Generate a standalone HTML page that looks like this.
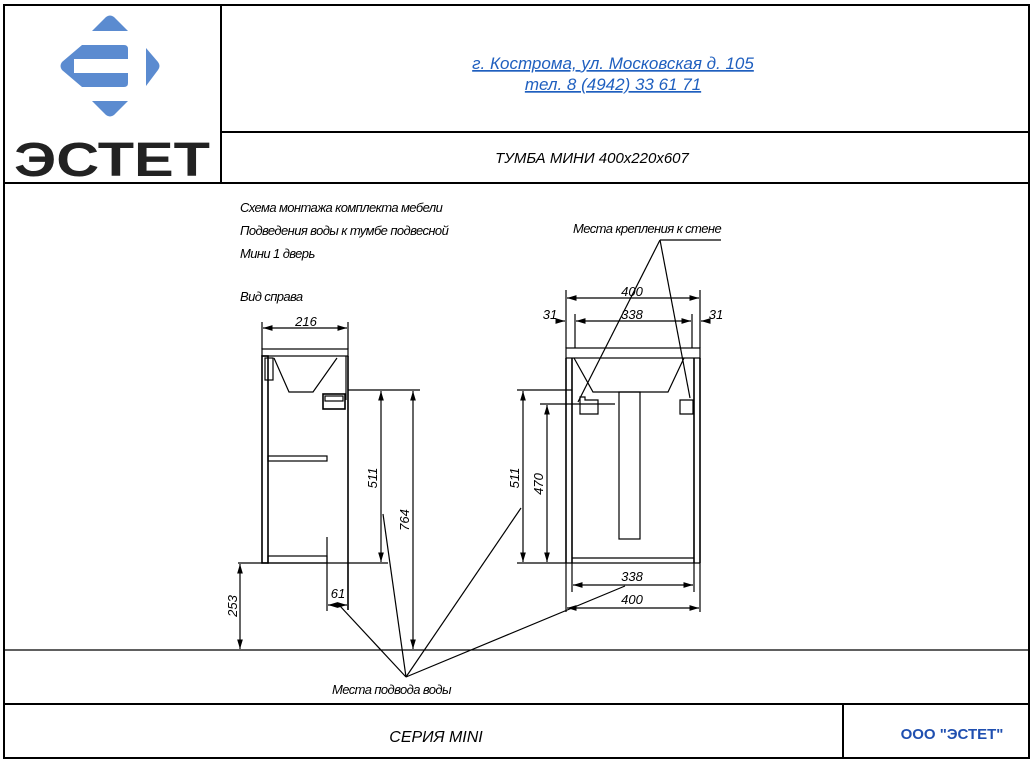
<!DOCTYPE html>
<html><head><meta charset="utf-8"><style>
html,body{margin:0;padding:0;background:#fff;}
svg{display:block;}
text{font-family:"Liberation Sans",sans-serif;}
.it{font-style:italic;font-size:13px;fill:#000;letter-spacing:-0.6px;}
.d{font-style:italic;font-size:13px;fill:#000;}
</style></head><body>
<svg width="1032" height="760" viewBox="0 0 1032 760" xmlns="http://www.w3.org/2000/svg">
<defs>
<marker id="a" viewBox="0 0 10 6" refX="10" refY="3" markerWidth="8" markerHeight="5" orient="auto-start-reverse"><path d="M0,0L10,3L0,6z" fill="#000"/></marker>
</defs>
<g fill="none" stroke="#000" stroke-width="2">
<rect x="4" y="5" width="1025" height="753"/>
<line x1="221" y1="5" x2="221" y2="183"/>
<line x1="221" y1="132" x2="1029" y2="132"/>
<line x1="4" y1="183" x2="1029" y2="183"/>
<line x1="4" y1="704" x2="1029" y2="704"/>
<line x1="843" y1="704" x2="843" y2="758"/>
</g>
<!-- logo -->
<g fill="#5b8bd0">
<path d="M92,31 L106,17 Q110,14 114,17 L128,31 Z"/>
<path d="M92,101 L128,101 L114,115 Q110,118 106,115 Z"/>
<path d="M146,48 L158,62 Q161,66 158,70 L146,86 Z"/>
<path d="M82,45 L124,45 Q128,45 128,49 L128,59 L74,59 L74,73 L128,73 L128,83 Q128,87 124,87 L82,87 L62,70 Q59,66 62,62 Z"/>
</g>
<text x="14" y="176" font-size="48" font-weight="bold" fill="#222" textLength="196" lengthAdjust="spacingAndGlyphs" style="font-family:'Liberation Sans',sans-serif">ЭСТЕТ</text>
<!-- header text -->
<g font-style="italic" font-size="17" fill="#1f5fbf" text-anchor="middle" text-decoration="underline">
<text x="613" y="69">г. Кострома, ул. Московская д. 105</text>
<text x="613" y="90">тел. 8 (4942) 33 61 71</text>
</g>
<text x="592" y="163" font-style="italic" font-size="15" text-anchor="middle">ТУМБА МИНИ  400х220х607</text>
<text x="436" y="742" font-style="italic" font-size="16" text-anchor="middle">СЕРИЯ MINI</text>
<text x="952" y="739" font-weight="bold" font-size="15" fill="#1f4fb0" text-anchor="middle">ООО "ЭСТЕТ"</text>
<!-- notes -->
<text class="it" x="240" y="212">Схема монтажа комплекта мебели</text>
<text class="it" x="240" y="235">Подведения воды к тумбе подвесной</text>
<text class="it" x="240" y="258">Мини 1 дверь</text>
<text class="it" x="240" y="301">Вид справа</text>
<text class="it" x="573" y="233">Места крепления к стене</text>
<text class="it" x="332" y="694">Места подвода воды</text>
<g fill="none" stroke="#000" stroke-width="1.2">
<!-- floor -->
<line x1="4" y1="650" x2="1029" y2="650"/>
<!-- side view -->
<rect x="262" y="349" width="86" height="7"/>
<rect x="262" y="356" width="6" height="207" stroke-width="1.6"/>
<line x1="348" y1="356" x2="348" y2="610" stroke-width="1.6"/>
<line x1="346" y1="356" x2="346" y2="400"/>
<rect x="265" y="358" width="8" height="22"/>
<path d="M274,358 L289,392 L313,392 L337,358"/>
<rect x="268" y="456" width="59" height="5"/>
<rect x="268" y="556" width="59" height="7"/>
<line x1="238" y1="563" x2="388" y2="563"/>
<line x1="327" y1="537" x2="327" y2="611"/>
<rect x="323" y="394" width="22" height="15" stroke-width="1.6"/>
<rect x="325" y="396" width="18" height="5"/>
<line x1="348" y1="390" x2="420" y2="390"/>
<line x1="262" y1="322" x2="262" y2="349"/>
<line x1="348" y1="322" x2="348" y2="349"/>
<g marker-start="url(#a)" marker-end="url(#a)">
<line x1="263" y1="328" x2="347" y2="328"/>
<line x1="381" y1="391" x2="381" y2="562"/>
<line x1="413" y1="391" x2="413" y2="649"/>
<line x1="240" y1="564" x2="240" y2="649"/>
<line x1="328" y1="605" x2="347" y2="605"/>
</g>
<!-- front view -->
<rect x="566" y="348" width="134" height="10"/>
<line x1="566" y1="358" x2="566" y2="563" stroke-width="1.6"/>
<line x1="572" y1="358" x2="572" y2="563" stroke-width="1.6"/>
<line x1="694" y1="358" x2="694" y2="563" stroke-width="1.6"/>
<line x1="700" y1="358" x2="700" y2="563" stroke-width="1.6"/>
<path d="M574,358 L593,392 L668,392 L684,358"/>
<rect x="619" y="392" width="21" height="147"/>
<line x1="572" y1="558" x2="694" y2="558"/>
<line x1="566" y1="563" x2="700" y2="563"/>
<path d="M580,397 L585,397 L585,400 L598,400 L598,414 L580,414 Z"/>
<path d="M680,400 L693,400 L693,414 L680,414 Z"/>
<line x1="517" y1="390" x2="572" y2="390"/>
<line x1="540" y1="404" x2="615" y2="404"/>
<line x1="517" y1="563" x2="566" y2="563"/>
<line x1="566" y1="290" x2="566" y2="348"/>
<line x1="700" y1="290" x2="700" y2="348"/>
<line x1="575" y1="314" x2="575" y2="348"/>
<line x1="692" y1="314" x2="692" y2="348"/>
<line x1="572" y1="563" x2="572" y2="592"/>
<line x1="694" y1="563" x2="694" y2="592"/>
<line x1="566" y1="563" x2="566" y2="612"/>
<line x1="700" y1="563" x2="700" y2="612"/>
<g marker-start="url(#a)" marker-end="url(#a)">
<line x1="567" y1="298" x2="699" y2="298"/>
<line x1="576" y1="321" x2="691" y2="321"/>
<line x1="523" y1="391" x2="523" y2="562"/>
<line x1="547" y1="405" x2="547" y2="562"/>
<line x1="573" y1="585" x2="693" y2="585"/>
<line x1="567" y1="608" x2="699" y2="608"/>
</g>
<line x1="557" y1="321" x2="565" y2="321" marker-end="url(#a)"/>
<line x1="709" y1="321" x2="701" y2="321" marker-end="url(#a)"/>
<!-- leaders -->
<line x1="660" y1="240" x2="721" y2="240"/>
<line x1="660" y1="240" x2="578" y2="402"/>
<line x1="660" y1="240" x2="690" y2="398"/>
<line x1="406" y1="677" x2="340" y2="606"/>
<line x1="406" y1="677" x2="383" y2="514"/>
<line x1="406" y1="677" x2="521" y2="508"/>
<line x1="406" y1="677" x2="625" y2="586"/>
</g>
<g class="d" text-anchor="middle">
<text x="306" y="326">216</text>
<text x="632" y="296">400</text>
<text x="632" y="319">338</text>
<text x="550" y="319">31</text>
<text x="716" y="319">31</text>
<text x="632" y="581">338</text>
<text x="632" y="604">400</text>
<text x="338" y="598">61</text>
<text transform="translate(377,478) rotate(-90)">511</text>
<text transform="translate(409,520) rotate(-90)">764</text>
<text transform="translate(237,606) rotate(-90)">253</text>
<text transform="translate(519,478) rotate(-90)">511</text>
<text transform="translate(543,484) rotate(-90)">470</text>
</g>
</svg>
</body></html>
